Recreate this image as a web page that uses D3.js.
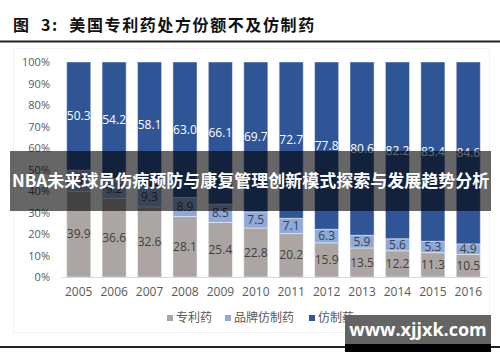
<!DOCTYPE html>
<html>
<head>
<meta charset="utf-8">
<script src="https://cdn.jsdelivr.net/npm/d3@7"></script>
<style>
body { margin: 0; background: #fff; }
svg { display: block; }
</style>
</head>
<body>
<script>
const svgWidth = 500
const svgHeight = 362

// data
const years = ["2005","2006","2007","2008","2009","2010","2011","2012","2013","2014","2015","2016"]
const patent = [39.9, 36.6, 32.6, 28.1, 25.4, 22.8, 20.2, 15.9, 13.5, 12.2, 11.3, 10.5]
const brandGeneric = [9.8, 9.2, 9.3, 8.9, 8.5, 7.5, 7.1, 6.3, 5.9, 5.6, 5.3, 4.9]
const generic = [50.3, 54.2, 58.1, 63.0, 66.1, 69.7, 72.7, 77.8, 80.6, 82.2, 83.4, 84.6]
const seriesNames = ["专利药", "品牌仿制药", "仿制药"]
const yTicks = [0, 10, 20, 30, 40, 50, 60, 70, 80, 90, 100]

const colors = ["#aba6a4", "#8eaadb", "#2f5597"]
const labelColors = ["#404040", "#404040", "#ffffff"]

const margin = { top: 62, right: 14, bottom: 85, left: 61 }
const chartWidth = svgWidth - margin.left - margin.right
const chartHeight = svgHeight - margin.top - margin.bottom

const font = "'Open Sans', 'Noto Sans CJK SC', sans-serif"

const svg = d3.select("body").append("svg")
    .attr("width", svgWidth)
    .attr("height", svgHeight)

// title and rules
svg.append("text")
    .attr("x", 13)
    .attr("y", 31)
    .attr("font-family", "'Noto Sans CJK SC', sans-serif")
    .attr("font-weight", "bold")
    .attr("font-size", 16)
    .attr("letter-spacing", 1.6)
    .attr("fill", "#111")
    .style("white-space", "pre")
    .text("图  3:  美国专利药处方份额不及仿制药")

svg.append("rect").attr("x", 0).attr("y", 40.5).attr("width", svgWidth).attr("height", 2).attr("fill", "#222")
svg.append("rect").attr("x", 0).attr("y", 346).attr("width", svgWidth).attr("height", 2).attr("fill", "#222")

// faint chart frame
svg.append("rect")
    .attr("x", 13.5).attr("y", 48.5).attr("width", 476).attr("height", 284)
    .attr("fill", "none").attr("stroke", "#f3f3f3")

const chartG = svg.append("g")
    .attr("transform", `translate(${margin.left}, ${margin.top})`)

const table = years.map((y, i) => ({ year: y, s0: patent[i], s1: brandGeneric[i], s2: generic[i] }))
const stacked = d3.stack().keys(["s0", "s1", "s2"])(table)

const x = d3.scaleBand()
    .domain(years)
    .range([0, chartWidth])
    .paddingInner(0.32)
    .paddingOuter(0.16)

const y = d3.scaleLinear()
    .domain([0, 100])
    .range([chartHeight, 0])

// y axis labels
const yAxis = d3.axisLeft(y)
    .tickValues(yTicks)
    .tickFormat(d => d + "%")
    .tickSize(0)
    .tickPadding(11)

chartG.append("g")
    .call(yAxis)
    .call(g => g.select(".domain").remove())
    .selectAll("text")
    .attr("font-family", font)
    .attr("font-size", 11)
    .attr("fill", "#595959")

stacked.forEach((layer, k) => {
    chartG.append("g")
        .selectAll("rect")
        .data(layer)
        .join("rect")
        .attr("x", d => x(d.data.year))
        .attr("y", d => y(d[1]))
        .attr("width", x.bandwidth())
        .attr("height", d => y(d[0]) - y(d[1]))
        .attr("fill", colors[k])
        .attr("stroke", "rgba(255,255,255,0.45)")
        .attr("stroke-width", 1)

    chartG.append("g")
        .selectAll("text")
        .data(layer)
        .join("text")
        .attr("x", d => x(d.data.year) + x.bandwidth() / 2)
        .attr("y", d => y((d[0] + d[1]) / 2))
        .attr("dy", "0.35em")
        .attr("text-anchor", "middle")
        .attr("font-family", font)
        .attr("font-size", 12)
        .attr("fill", labelColors[k])
        .text(d => (d[1] - d[0]).toFixed(1))
})

// x axis
const xAxis = d3.axisBottom(x).tickSize(0).tickPadding(10)
chartG.append("g")
    .attr("transform", `translate(0, ${chartHeight})`)
    .call(xAxis)
    .call(g => g.select(".domain").attr("stroke", "#d9d9d9").attr("stroke-width", 1))
    .selectAll("text")
    .attr("font-family", font)
    .attr("font-size", 12)
    .attr("fill", "#595959")

// legend
const legendX = [167, 225, 309]
const legend = svg.append("g").attr("transform", "translate(0, 318)")
seriesNames.forEach((name, i) => {
    legend.append("rect")
        .attr("x", legendX[i]).attr("y", -3)
        .attr("width", 6).attr("height", 6)
        .attr("fill", colors[i])
    legend.append("text")
        .attr("x", legendX[i] + 9)
        .attr("y", 0)
        .attr("dy", "0.36em")
        .attr("font-family", "'Noto Sans CJK SC', sans-serif")
        .attr("font-size", 12)
        .attr("fill", "#595959")
        .text(name)
})

// overlay banner
svg.append("rect")
    .attr("x", 10).attr("y", 151).attr("width", 481).attr("height", 60)
    .attr("fill", "rgba(0,0,0,0.6)")
svg.append("text")
    .attr("x", 12).attr("y", 181)
    .attr("dy", "0.36em")
    .attr("font-family", "'Noto Sans CJK SC', sans-serif")
    .attr("font-weight", "bold")
    .attr("font-size", 17)
    .attr("fill", "#fff")
    .text("NBA未来球员伤病预防与康复管理创新模式探索与发展趋势分析")

// watermark
svg.append("rect")
    .attr("x", 345).attr("y", 315).attr("width", 146).attr("height", 29)
    .attr("fill", "#646464")
svg.append("rect")
    .attr("x", 345).attr("y", 344).attr("width", 146).attr("height", 8)
    .attr("fill", "#000")
svg.append("text")
    .attr("x", 418).attr("y", 330)
    .attr("dy", "0.36em")
    .attr("text-anchor", "middle")
    .attr("font-family", "'Open Sans', sans-serif")
    .attr("font-weight", "bold")
    .attr("font-size", 18)
    .attr("fill", "#fff")
    .text("www.xjjxk.com")
</script>
</body>
</html>
